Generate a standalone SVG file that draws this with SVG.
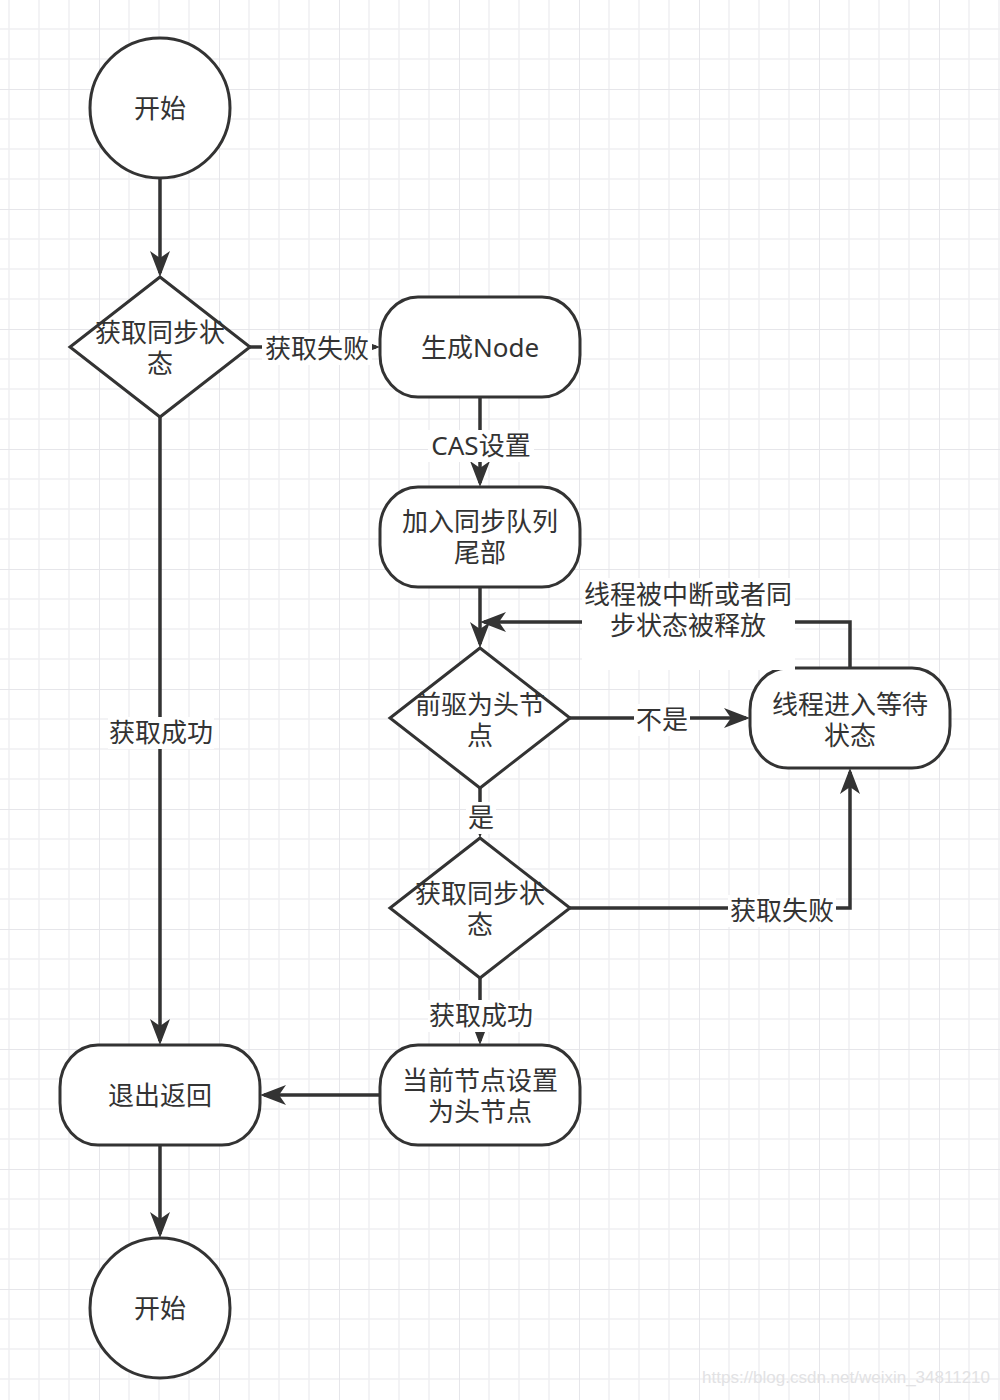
<svg xmlns="http://www.w3.org/2000/svg" width="1000" height="1400" viewBox="0 0 1000 1400">
  <defs>
    <pattern id="grid" patternUnits="userSpaceOnUse" x="99" y="89" width="120" height="120">
      <path d="M30,0V120M60,0V120M90,0V120M0,30H120M0,60H120M0,90H120" stroke="#f0f0f2" stroke-width="1.5" fill="none"/>
      <path d="M0,0V120M0,0H120" stroke="#e6e6ea" stroke-width="2" fill="none"/>
    </pattern>
    <marker id="arr" markerUnits="userSpaceOnUse" viewBox="0 0 26 20" markerWidth="26" markerHeight="20" refX="22" refY="10" orient="auto">
      <path d="M0,0 L26,10 L0,20 L7,10 Z" fill="#333"/>
    </marker>
    <style>
      .shape { fill: #fff; stroke: #333; stroke-width: 3; }
      .edge { fill: none; stroke: #333; stroke-width: 3.5; }
      .t { font-family: "Noto Sans", "Noto Sans CJK SC", sans-serif; font-size: 26px; fill: #333; text-anchor: middle; dominant-baseline: central; }
      .lbg { fill: #fff; }
    </style>
  </defs>
  <rect width="1000" height="1400" fill="#fff"/>
  <rect width="1000" height="1400" fill="url(#grid)"/>

  <g id="start">
    <circle class="shape" cx="160" cy="108" r="70"/>
    <text class="t" x="160" y="108">开始</text>
  </g>
  <g id="check1">
    <polygon class="shape" points="160,277 250,347 160,417 70,347"/>
    <text class="t" x="160" y="332">获取同步状<tspan x="160" dy="31">态</tspan></text>
  </g>
  <g id="genNode">
    <rect class="shape" x="380" y="297" width="200" height="100" rx="38" ry="42"/>
    <text class="t" x="480" y="347">生成Node</text>
  </g>
  <g id="enqueue">
    <rect class="shape" x="380" y="487" width="200" height="100" rx="38" ry="42"/>
    <text class="t" x="480" y="521">加入同步队列<tspan x="480" dy="31">尾部</tspan></text>
  </g>
  <g id="predHead">
    <polygon class="shape" points="480,648 570,718 480,788 390,718"/>
    <text class="t" x="480" y="704">前驱为头节<tspan x="480" dy="31">点</tspan></text>
  </g>
  <g id="wait">
    <rect class="shape" x="750" y="668" width="200" height="100" rx="38" ry="42"/>
    <text class="t" x="850" y="704">线程进入等待<tspan x="850" dy="31">状态</tspan></text>
  </g>
  <g id="check2">
    <polygon class="shape" points="480,838 570,908 480,978 390,908"/>
    <text class="t" x="480" y="893">获取同步状<tspan x="480" dy="31">态</tspan></text>
  </g>
  <g id="setHead">
    <rect class="shape" x="380" y="1045" width="200" height="100" rx="38" ry="42"/>
    <text class="t" x="480" y="1080">当前节点设置<tspan x="480" dy="31">为头节点</tspan></text>
  </g>
  <g id="exit">
    <rect class="shape" x="60" y="1045" width="200" height="100" rx="38" ry="42"/>
    <text class="t" x="160" y="1095">退出返回</text>
  </g>
  <g id="end">
    <circle class="shape" cx="160" cy="1308" r="70"/>
    <text class="t" x="160" y="1308">开始</text>
  </g>

  <g id="connectors">
    <path class="edge" d="M160,178 V273" marker-end="url(#arr)"/>
    <path class="edge" d="M250,347 H376" marker-end="url(#arr)"/>
    <rect class="lbg" x="262" y="333" width="110" height="32"/>
    <text class="t" x="317" y="348">获取失败</text>

    <path class="edge" d="M160,417 V1041" marker-end="url(#arr)"/>
    <rect class="lbg" x="108" y="717" width="106" height="32"/>
    <text class="t" x="161" y="732">获取成功</text>

    <path class="edge" d="M480,397 V483" marker-end="url(#arr)"/>
    <rect class="lbg" x="428" y="430" width="106" height="32"/>
    <text class="t" x="481" y="445">CAS设置</text>

    <path class="edge" d="M480,587 V644" marker-end="url(#arr)"/>

    <path class="edge" d="M570,718 H746" marker-end="url(#arr)"/>
    <rect class="lbg" x="634" y="704" width="56" height="32"/>
    <text class="t" x="662" y="719">不是</text>

    <path class="edge" d="M850,668 V622 H484" marker-end="url(#arr)"/>
    <rect class="lbg" x="582" y="578" width="213" height="92"/>
    <text class="t" x="688" y="594">线程被中断或者同<tspan x="688" dy="31">步状态被释放</tspan></text>

    <path class="edge" d="M480,788 V834" marker-end="url(#arr)"/>
    <rect class="lbg" x="466" y="802" width="30" height="32"/>
    <text class="t" x="481" y="817">是</text>

    <path class="edge" d="M570,908 H850 V772" marker-end="url(#arr)"/>
    <rect class="lbg" x="728" y="895" width="108" height="32"/>
    <text class="t" x="782" y="910">获取失败</text>

    <path class="edge" d="M480,978 V1041" marker-end="url(#arr)"/>
    <rect class="lbg" x="428" y="1000" width="106" height="32"/>
    <text class="t" x="481" y="1015">获取成功</text>

    <path class="edge" d="M380,1095 H264" marker-end="url(#arr)"/>
    <path class="edge" d="M160,1145 V1234" marker-end="url(#arr)"/>
  </g>

  <text x="990" y="1383" text-anchor="end" font-family="Liberation Sans, Arial, sans-serif" font-size="17" fill="#e2e2e4">https://blog.csdn.net/weixin_34811210</text>
</svg>
